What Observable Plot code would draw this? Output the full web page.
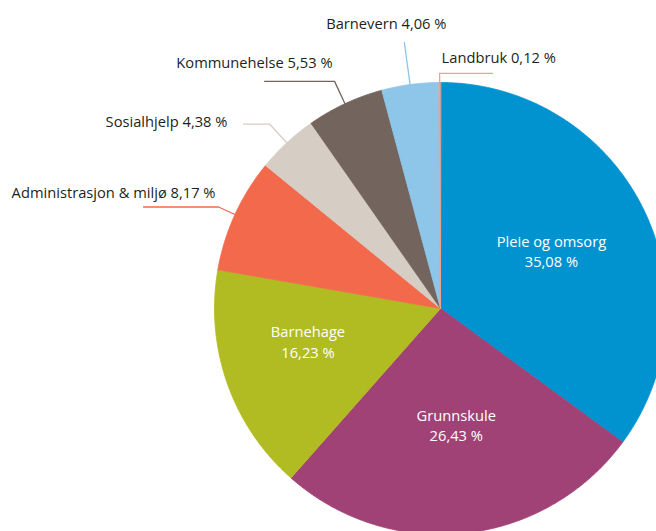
<!DOCTYPE html>
<html><head><meta charset="utf-8">
<script src="https://cdn.jsdelivr.net/npm/d3@7"></script>
<script src="https://cdn.jsdelivr.net/npm/@observablehq/plot@0.6"></script>
<style>body{margin:0;background:#fff;overflow:hidden}</style>
</head><body><div id="chart"></div>
<script>
// ---- data ----
const names = ["Pleie og omsorg","Grunnskule","Barnehage","Administrasjon & miljø","Sosialhjelp","Kommunehelse","Barnevern","Landbruk"];
const values = [35.08,26.43,16.23,8.17,4.38,5.53,4.06,0.12];
const colors = ["#0093d0","#a04275","#b0bc22","#f2694b","#d6cdc4","#73655d","#8dc6e8","#f4a08b"];
const insideNames = ["Pleie og omsorg","Grunnskule","Barnehage"];

// ---- layout (pixels) ----
const W = 656, H = 531, CX = 440, CY = 308, R = 226;
const leaderLayout = {
  "Administrasjon & miljø": {elbow: 1.08, run: -75, anchor: "end", dx: -3, dy: -14},
  "Sosialhjelp":            {elbow: 1.113, run: -26, anchor: "end", dx: -42, dy: -2},
  "Kommunehelse":           {elbow: 1.109, run: -70, anchor: "end", dx: -2, dy: -18},
  "Barnevern":              {elbow: 1.188, run: 0, anchor: "middle", dx: -18, dy: -18},
  "Landbruk":               {elbow: 1.04, run: 53, anchor: "start", dx: 2, dy: -15}
};
const insideLayout = {
  "Pleie og omsorg": {dx: -4, dy: 0},
  "Grunnskule":      {dx: 2, dy: -12},
  "Barnehage":       {dx: -11, dy: -10}
};
const labelRadius = 0.57;

const fmt = v => v.toFixed(2).replace(".", ",") + " %";
const total = d3.sum(values);
const slices = [];
let acc = 0;
names.forEach((n, i) => {
  const a0 = acc / total * 2 * Math.PI;
  acc += values[i];
  const a1 = acc / total * 2 * Math.PI;
  slices.push({name: n, value: values[i], a0, a1, mid: (a0 + a1) / 2});
});

// polygons
const polyPts = [];
for (const s of slices) {
  polyPts.push({name: s.name, x: 0, y: 0});
  const steps = Math.max(2, Math.ceil((s.a1 - s.a0) / (Math.PI / 360)));
  for (let k = 0; k <= steps; k++) {
    const a = s.a0 + (s.a1 - s.a0) * k / steps;
    polyPts.push({name: s.name, x: Math.sin(a), y: Math.cos(a)});
  }
}

// leaders
const leaderPts = [];
const outsideText = [];
for (const s of slices) {
  const L = leaderLayout[s.name];
  if (!L) continue;
  const ex = Math.sin(s.mid), ey = Math.cos(s.mid);
  const bx = ex * L.elbow, by = ey * L.elbow;
  leaderPts.push({name: s.name, x: ex, y: ey});
  leaderPts.push({name: s.name, x: bx, y: by});
  if (L.run !== 0) leaderPts.push({name: s.name, x: bx + L.run / R, y: by});
  outsideText.push({name: s.name, anchor: L.anchor,
    x: bx + L.dx / R, y: by - L.dy / R, label: s.name + " " + fmt(s.value)});
}

const insideText = slices.filter(s => insideNames.includes(s.name)).map(s => {
  const o = insideLayout[s.name];
  return {
    x: Math.sin(s.mid) * labelRadius + o.dx / R,
    y: Math.cos(s.mid) * labelRadius - o.dy / R,
    label: s.name + "\n" + fmt(s.value)
  };
});

const textColor = "#231f20";
const chart = Plot.plot({
  width: W, height: H,
  marginTop: 0, marginRight: 0, marginBottom: 0, marginLeft: 0,
  style: {fontFamily: "'Open Sans', sans-serif", background: "#fff"},
  x: {domain: [-CX / R, (W - CX) / R], range: [0, W], axis: null},
  y: {domain: [-(H - CY) / R, CY / R], range: [H, 0], axis: null},
  color: {domain: names, range: colors},
  marks: [
    Plot.line(polyPts, {x: "x", y: "y", z: "name", fill: "name", stroke: "name", strokeWidth: 0.8, curve: "linear-closed"}),
    Plot.line(leaderPts, {x: "x", y: "y", z: "name", stroke: "name", strokeWidth: 1.3}),
    ...["start", "middle", "end"].map(a => Plot.text(outsideText.filter(d => d.anchor === a), {
      x: "x", y: "y", text: "label", textAnchor: a, fill: textColor, fontSize: 14.7
    })),
    Plot.text(insideText, {x: "x", y: "y", text: "label", fill: "#fff", fontSize: 14.7, lineHeight: 1.4, textAnchor: "middle"})
  ]
});
document.getElementById("chart").appendChild(chart);
</script>
</body></html>
